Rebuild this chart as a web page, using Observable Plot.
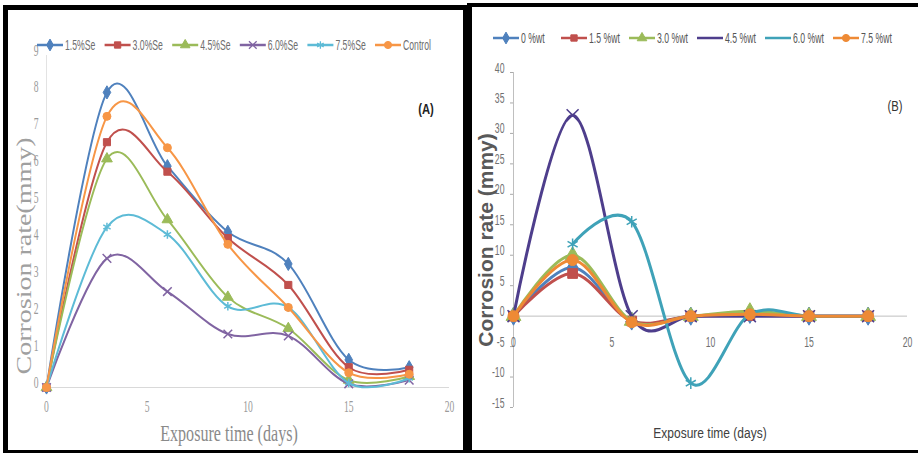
<!DOCTYPE html>
<html>
<head>
<meta charset="utf-8">
<script src="https://cdn.jsdelivr.net/npm/d3@7"></script>
<script src="https://cdn.jsdelivr.net/npm/@observablehq/plot@0.6"></script>
<style>
  body { margin: 0; background: #fff; }
  #wrap { position: relative; width: 918px; height: 453px; overflow: hidden; background: #fff; }
  #chartA, #chartB, #overlay { position: absolute; top: 0; }
  #chartA { left: 0; }
  #chartB { left: 467px; }
  #overlay { left: 0; pointer-events: none; }
  .frame { position: absolute; box-sizing: border-box; border-style: solid; border-color: #000; }
</style>
</head>
<body>
<div id="wrap">
  <div id="chartA"></div>
  <div id="chartB"></div>
  <div class="frame" style="left:3px;top:5px;width:465px;height:448px;border-width:5px 5px 3px 5px;"></div>
  <div class="frame" style="left:467px;top:3px;width:451px;height:450px;border-width:4px 0 3px 5px;"></div>
  <svg id="overlay" width="918" height="453"></svg>
</div>
<script>
// ---------- data ----------
const days = [0, 3, 6, 9, 12, 15, 18];

// Panel A
const seriesA = ["1.5%Se", "3.0%Se", "4.5%Se", "6.0%Se", "7.5%Se", "Control"];
const rateA_15 = [0, 8.0, 6.0, 4.22, 3.35, 0.75, 0.55];
const rateA_30 = [0, 6.65, 5.85, 4.05, 2.78, 0.55, 0.48];
const rateA_45 = [0, 6.2, 4.55, 2.45, 1.6, 0.2, 0.3];
const rateA_60 = [0, 3.5, 2.6, 1.45, 1.4, 0.1, 0.2];
const rateA_75 = [0, 4.35, 4.15, 2.2, 2.17, 0.12, 0.25];
const rateA_ctrl = [0, 7.35, 6.5, 3.88, 2.17, 0.4, 0.36];
const xTicksA = [0, 5, 10, 15, 20];
const yTicksA = [0, 1, 2, 3, 4, 5, 6, 7, 8, 9];

// Panel B
const seriesB = ["0 %wt", "1.5 %wt", "3.0 %wt", "4.5 %wt", "6.0 %wt", "7.5 %wt"];
const rateB_0 = [0, 8.0, -0.8, 0, 0.3, 0, 0];
const rateB_15 = [0, 7.0, -0.8, 0, 0.1, 0, 0];
const rateB_30 = [0, 10.0, -0.8, 0, 0.8, 0, 0];
const rateB_45 = [0, 33.0, 0, 0, 0, 0, 0];
const rateB_60 = [null, 11.8, 15.5, -11.0, 0.3, 0, 0];
const rateB_75 = [0, 9.2, -1.0, 0, 0.3, 0, 0];
const xTicksB = [0, 5, 10, 15, 20];
const yTicksB = [-15, -10, -5, 0, 5, 10, 15, 20, 25, 30, 35, 40];

// ---------- styles ----------
const colorsA = ["#4F81BD", "#C0504D", "#9BBB59", "#8064A2", "#5DBBD6", "#F79646"];
const colorsB = ["#4F81BD", "#C0504D", "#9BBB59", "#4E3E8C", "#3FA2B8", "#EE8A35"];
const symbols = ["diamond", "square", "triangle", "times", "asterisk", "circle"];
const d3symbols = [d3.symbolDiamond, d3.symbolSquare, d3.symbolTriangle, d3.symbolTimes, d3.symbolAsterisk, d3.symbolCircle];
const strokeOnly = [false, false, false, true, true, false];
const legendMarkerB = [true, true, true, false, false, true];
const legendMarkerA = [true, true, true, true, true, true];

const valuesA = [rateA_15, rateA_30, rateA_45, rateA_60, rateA_75, rateA_ctrl];
const valuesB = [rateB_0, rateB_15, rateB_30, rateB_45, rateB_60, rateB_75];

function tidy(names, values) {
  return names.map((s, i) => days.map((d, j) => ({series: s, day: d, rate: values[i][j]})));
}
const dataA = tidy(seriesA, valuesA);
const dataB = tidy(seriesB, valuesB);

function seriesMarks(data, colors, lw, r) {
  return data.flatMap((rows, i) => [
    Plot.line(rows, {x: "day", y: "rate", stroke: colors[i], strokeWidth: lw, curve: "cardinal", tension: 0}),
    Plot.dot(rows.filter(d => d.rate != null), {
      x: "day", y: "rate", symbol: () => symbols[i], r: r,
      fill: strokeOnly[i] ? "none" : colors[i],
      stroke: colors[i], strokeWidth: strokeOnly[i] ? 1.5 : 1
    })
  ]);
}

function squish(svg, s) {
  d3.select(svg).selectAll("text").each(function () {
    const t = d3.select(this);
    const x = +t.attr("x") || 0, y = +t.attr("y") || 0;
    const tr = t.attr("transform") || "";
    t.attr("x", null).attr("y", null).attr("transform", `${tr} translate(${x},${y}) scale(${s},1)`);
  });
}

// ---------- chart A ----------
const chartA = Plot.plot({
  width: 468, height: 453,
  marginLeft: 46, marginRight: 19, marginTop: 55, marginBottom: 66,
  x: {domain: [0, 20]},
  y: {domain: [0, 9]},
  style: {background: "transparent", fontFamily: "'Liberation Serif', serif", fontSize: "16px", color: "#9a9a9a"},
  marks: [
    Plot.ruleY([0], {stroke: "#d9d9d9"}),
    Plot.ruleX([0], {stroke: "#e3e3e3"}),
    Plot.axisX({ticks: xTicksA, tickSize: 0, tickPadding: 24, label: null, tickFormat: d => String(d)}),
    Plot.axisY({ticks: yTicksA, tickSize: 0, tickPadding: 8, label: null, tickFormat: d => String(d)}),
    ...seriesMarks(dataA, colorsA, 2, 4)
  ]
});
squish(chartA, 0.6);
document.getElementById("chartA").appendChild(chartA);

// ---------- chart B ----------
const chartB = Plot.plot({
  width: 451, height: 453,
  marginLeft: 46, marginRight: 11, marginTop: 72, marginBottom: 46,
  x: {domain: [0, 20], axis: null},
  y: {domain: [-15, 40]},
  style: {background: "transparent", fontFamily: "'Liberation Sans', sans-serif", fontSize: "14px", color: "#707070"},
  marks: [
    Plot.ruleX([0], {stroke: "#bfbfbf"}),
    Plot.ruleY([0], {stroke: "#bfbfbf"}),
    Plot.axisY({ticks: yTicksB, tickSize: 3, tickPadding: 6, label: null, stroke: "#aaa", tickFormat: d => String(d)}),
    Plot.text(xTicksB, {x: d => d, y: 0, dy: 31, text: d => String(d), fill: "#707070"}),
    ...seriesMarks(dataB, colorsB, 3, 5.5)
  ]
});
squish(chartB, 0.62);
document.getElementById("chartB").appendChild(chartB);

// ---------- overlay: legends, titles ----------
const ov = d3.select("#overlay");

function legend(names, colors, showMarker, x0, step, y, textFill) {
  names.forEach((name, i) => {
    const x = x0 + i * step;
    const g = ov.append("g");
    g.append("line").attr("x1", x).attr("x2", x + 26).attr("y1", y).attr("y2", y)
      .attr("stroke", colors[i]).attr("stroke-width", 2.5);
    if (showMarker[i]) {
      g.append("path").attr("d", d3.symbol(d3symbols[i], 40)())
        .attr("transform", `translate(${x + 13},${y})`)
        .attr("fill", strokeOnly[i] ? "none" : colors[i])
        .attr("stroke", colors[i]).attr("stroke-width", strokeOnly[i] ? 1.3 : 1);
    }
    g.append("text").attr("transform", `translate(${x + 28},${y}) scale(0.62,1)`)
      .attr("dominant-baseline", "central")
      .attr("font-family", "'Liberation Sans', sans-serif").attr("font-size", 14)
      .attr("fill", textFill).text(name);
  });
}
legend(seriesA, colorsA, legendMarkerA, 37, 67.6, 45, "#6e6e6e");
legend(seriesB, colorsB, legendMarkerB, 493, 68, 38, "#555");

function label(txt, tr, size, family, fill, weight) {
  ov.append("text").attr("transform", tr)
    .attr("text-anchor", "middle").attr("dominant-baseline", "central")
    .attr("font-family", family).attr("font-size", size)
    .attr("font-weight", weight || "normal").attr("fill", fill).text(txt);
}
label("(A)", "translate(426,109) scale(0.75,1)", 15, "'Liberation Sans', sans-serif", "#222", "bold");
label("(B)", "translate(895,106) scale(0.75,1)", 15, "'Liberation Sans', sans-serif", "#333", "normal");
label("Corrosion rate(mmy)", "translate(24,256) scale(0.75,1) rotate(-90)", 28, "'Liberation Serif', serif", "#a0a0a0");
label("Exposure time (days)", "translate(229,433) scale(0.7,1)", 23, "'Liberation Serif', serif", "#8a8a8a");
label("Corrosion rate (mmy)", "translate(485,240) rotate(-90)", 21, "'Liberation Sans', sans-serif", "#595959", "bold");
label("Exposure time (days)", "translate(710,433) scale(0.8,1)", 15, "'Liberation Sans', sans-serif", "#404040");
</script>
</body>
</html>
